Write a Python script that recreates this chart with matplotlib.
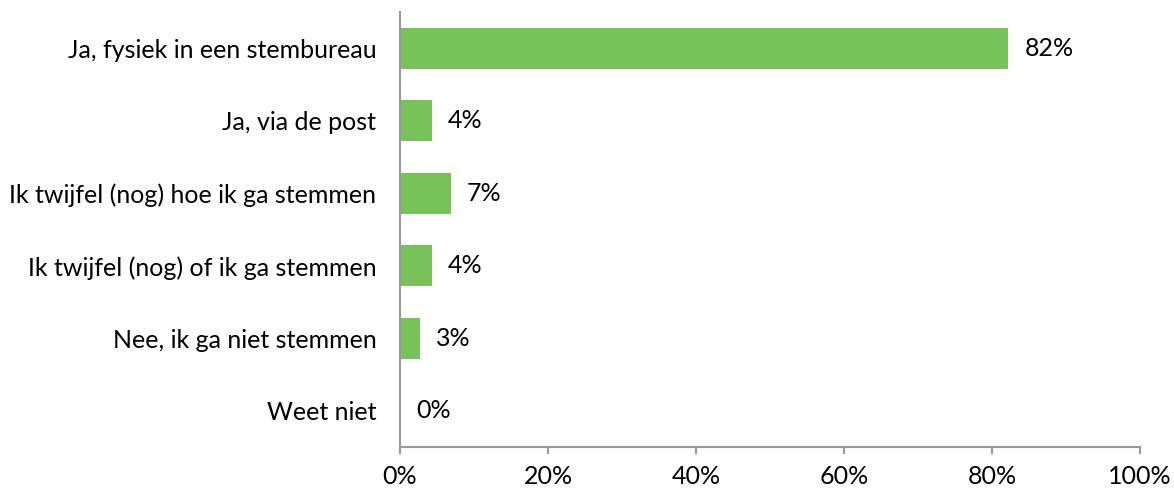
import matplotlib
matplotlib.use("Agg")
import matplotlib.pyplot as plt
from matplotlib.ticker import FuncFormatter

categories = ["Ja, fysiek in een stembureau", "Ja, via de post",
              "Ik twijfel (nog) hoe ik ga stemmen", "Ik twijfel (nog) of ik ga stemmen",
              "Nee, ik ga niet stemmen", "Weet niet"]
values = [82.2, 4.3, 6.9, 4.3, 2.7, 0.0]
labels = ["82%", "4%", "7%", "4%", "3%", "0%"]
xticks = [0, 20, 40, 60, 80, 100]

plt.rcParams['font.family'] = ['Lato', 'DejaVu Sans']
fs = 18

fig = plt.figure(figsize=(11.74, 4.9), dpi=100)
ax = fig.add_axes([400/1174, 1-447/490, 740/1174, 435/490])
y = list(range(len(categories)))
ax.barh(y, values, height=0.566, color="#77C35A")
for yi, v, lab in zip(y, values, labels):
    ax.annotate(lab, (v, yi), xytext=(16, 0), textcoords="offset pixels",
                va="center", ha="left", fontsize=fs, color="#000000")
ax.set_ylim(5.5, -0.5)
ax.set_xlim(0, 100)
ax.set_yticks(y)
ax.set_yticklabels(categories, fontsize=fs)
ax.tick_params(axis='y', length=0, pad=17)
ax.set_xticks(xticks)
ax.xaxis.set_major_formatter(FuncFormatter(lambda v, p: f"{int(v)}%"))
ax.tick_params(axis='x', length=5, width=1.5, color="#999999", labelsize=fs, pad=8, direction='out')
for s in ["top", "right"]:
    ax.spines[s].set_visible(False)
for s in ["left", "bottom"]:
    ax.spines[s].set_color("#999999")
    ax.spines[s].set_linewidth(1.5)
fig.savefig("out.png", dpi=100)
